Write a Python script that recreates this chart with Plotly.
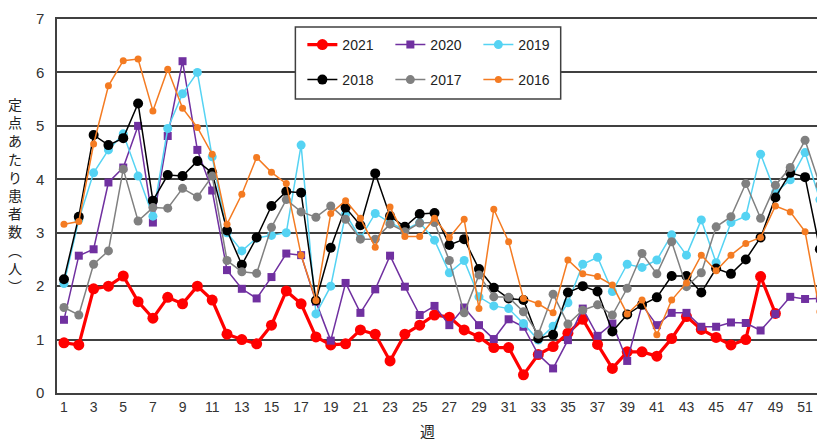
import plotly.graph_objects as go

weeks = list(range(1, 53))
x_ticks = list(range(1, 52, 2))
y_ticks = list(range(0, 8))

y2021 = [0.94, 0.90, 1.95, 2.00, 2.19, 1.71, 1.40, 1.79, 1.67, 2.00, 1.74, 1.10, 1.00, 0.92, 1.27,
         1.91, 1.67, 1.05, 0.90, 0.92, 1.18, 1.10, 0.60, 1.10, 1.27, 1.46, 1.42, 1.18, 1.05, 0.85,
         0.85, 0.34, 0.72, 0.87, 1.12, 1.38, 0.91, 0.46, 0.77, 0.77, 0.69, 1.02, 1.43, 1.19, 1.04,
         0.90, 1.00, 2.18, 1.49]
y2020 = [1.37, 2.57, 2.69, 3.94, 4.22, 5.00, 3.19, 4.81, 6.21, 4.55, 3.79, 2.30, 1.95, 1.77, 2.17,
         2.61, 2.58, 1.71, 0.98, 2.06, 1.50, 1.94, 2.57, 1.99, 1.46, 1.63, 1.27, 1.60, 1.27, 1.01,
         1.38, 1.24, 0.72, 0.46, 0.99, 1.58, 1.07, 1.30, 0.60, 1.65, 1.27, 1.50, 1.50, 1.24, 1.24,
         1.32, 1.31, 1.17, 1.48, 1.80, 1.76, 1.77]
y2019 = [2.05, 3.24, 4.12, 4.55, 4.85, 4.06, 3.31, 4.95, 5.60, 6.00, 4.42, 3.00, 2.66, 2.90, 2.95,
         3.00, 4.64, 1.48, 2.00, 3.35, 2.90, 3.36, 3.19, 3.05, 3.19, 2.86, 2.25, 2.48, 1.80, 1.63,
         1.58, 1.30, 0.99, 1.25, 1.69, 2.41, 2.54, 1.90, 2.41, 2.35, 2.49, 2.96, 2.58, 3.24, 2.44,
         3.19, 3.31, 4.47, 3.75, 3.99, 4.50, 3.62]
y2018 = [2.13, 3.30, 4.83, 4.64, 4.77, 5.42, 3.60, 4.08, 4.06, 4.34, 4.12, 3.04, 2.40, 2.91, 3.50,
         3.77, 3.75, 1.73, 2.72, 3.47, 3.14, 4.11, 3.31, 3.11, 3.35, 3.37, 2.77, 2.88, 2.32, 1.97,
         1.77, 1.74, 1.02, 1.09, 1.88, 2.00, 1.90, 1.15, 1.47, 1.65, 1.79, 2.19, 2.19, 1.88, 2.33,
         2.23, 2.50, 2.91, 3.66, 4.12, 4.04, 2.69]
y2017 = [1.60, 1.46, 2.41, 2.66, 4.19, 3.22, 3.47, 3.46, 3.83, 3.67, 4.06, 2.48, 2.27, 2.24, 3.10,
         3.62, 3.39, 3.29, 3.50, 3.25, 2.88, 2.88, 3.16, 3.02, 3.18, 3.19, 2.48, 1.50, 2.21, 1.80,
         1.79, 1.52, 1.10, 1.85, 1.29, 1.55, 1.65, 1.46, 1.96, 2.61, 2.23, 2.83, 1.99, 2.25, 3.11,
         3.30, 3.92, 3.27, 3.89, 4.22, 4.73, 3.89]
y2016 = [3.16, 3.21, 4.66, 5.75, 6.22, 6.25, 5.28, 6.06, 5.33, 4.97, 4.47, 3.16, 3.72, 4.41, 4.13,
         3.92, 2.58, 1.73, 3.36, 3.60, 3.27, 2.73, 3.48, 2.93, 2.93, 3.27, 2.91, 3.25, 1.58, 3.44,
         2.83, 1.77, 1.67, 1.50, 2.49, 2.23, 2.18, 2.02, 1.48, 1.74, 1.09, 1.74, 2.06, 2.58, 2.29,
         2.58, 2.80, 2.91, 3.50, 3.39, 3.02, 1.52]

series = [
    ("2021", y2021, "#FF0000", 3.2, "circle", 11, "legend"),
    ("2020", y2020, "#7030A0", 1.5, "square", 8, "legend"),
    ("2019", y2019, "#55D3F3", 1.5, "circle", 9, "legend"),
    ("2018", y2018, "#000000", 1.5, "circle", 10, "legend2"),
    ("2017", y2017, "#808080", 1.5, "circle", 9, "legend2"),
    ("2016", y2016, "#F47B22", 1.5, "circle", 7, "legend2"),
]

fig = go.Figure()
for name, vals, color, lw, sym, ms, leg in series:
    fig.add_trace(go.Scatter(
        x=weeks[:len(vals)], y=vals, name=name, mode="lines+markers",
        line=dict(color=color, width=lw),
        marker=dict(color=color, symbol=sym, size=ms),
        legend=leg,
    ))

# page body has an 8px margin: figure occupies window (8..825, 8..442)
OFF = 8
W, H = 825 - OFF, 442 - OFF
PL, PR, PT, PB = 57, 825, 19, 393   # plot area in window pixels
L, R, T, B = PL - OFF, 825 - PR, PT - OFF, 442 - PB
pw, ph = PR - PL, PB - PT

def px_x(p):
    return (p - PL) / pw

def px_y(p):
    return (PB - p) / ph

font_main = "Liberation Sans, Arial, sans-serif"
legfont = dict(family="Liberation Sans Narrow, Arial Narrow, Liberation Sans, Arial", size=14, color="#222")

fig.update_layout(
    width=W, height=H,
    margin=dict(l=L, r=R, t=T, b=B),
    paper_bgcolor="white", plot_bgcolor="white",
    font=dict(family=font_main, color="#333"),
    xaxis=dict(range=[0.53, 52.21], tickvals=x_ticks, showgrid=False, zeroline=False,
               showline=True, mirror=True, linecolor="#404040", linewidth=1.5,
               ticks="", tickfont=dict(size=14, color="#333")),
    yaxis=dict(range=[0, 7], tickvals=y_ticks, showgrid=True, gridcolor="#404040", gridwidth=1.5,
               zeroline=False, showline=True, mirror=True, linecolor="#404040", linewidth=1.5,
               ticks="", tickfont=dict(size=15, color="#333"), ticklabelstandoff=8),
    legend=dict(orientation="h", x=px_x(303), xanchor="left", y=px_y(45), yanchor="middle",
                entrywidth=43, entrywidthmode="pixels", bgcolor="rgba(0,0,0,0)", borderwidth=0,
                font=legfont, itemwidth=30, traceorder="normal"),
    legend2=dict(orientation="h", x=px_x(303), xanchor="left", y=px_y(80), yanchor="middle",
                 entrywidth=43, entrywidthmode="pixels", bgcolor="rgba(0,0,0,0)", borderwidth=0,
                 font=legfont, itemwidth=30, traceorder="normal"),
    shapes=[dict(type="rect", xref="paper", yref="paper",
                 x0=px_x(296), x1=px_x(562), y0=px_y(99), y1=px_y(27),
                 fillcolor="white", line=dict(color="#404040", width=1.5), layer="above")],
    annotations=[
        dict(text="週", xref="paper", yref="paper", x=px_x(428), y=px_y(430),
             xanchor="center", yanchor="middle", showarrow=False,
             font=dict(family="Noto Sans CJK JP", size=15, color="#222")),
        dict(text="<br>".join(list("定点あたり患者数︵人︶")), xref="paper", yref="paper",
             x=px_x(15), y=px_y(195), xanchor="center", yanchor="middle", showarrow=False,
             font=dict(family="Noto Sans CJK JP", size=14, color="#222")),
    ],
)

fig.write_html("out.html")
